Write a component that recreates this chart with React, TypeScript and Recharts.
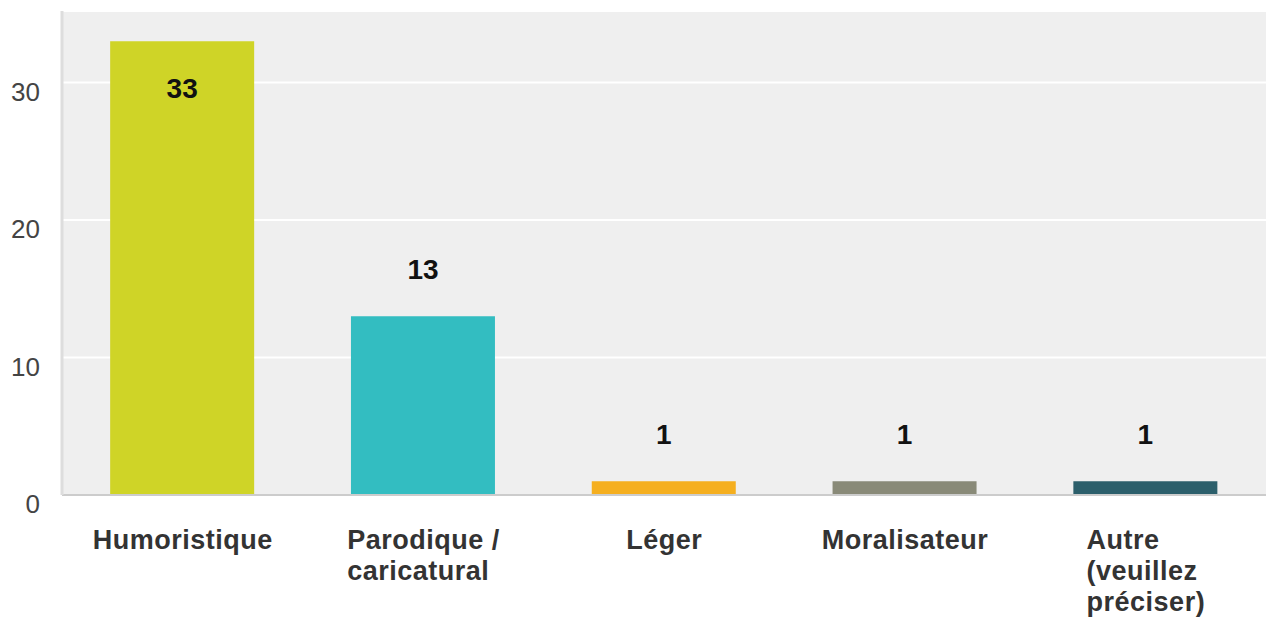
import React from "react";
import { BarChart, Bar, XAxis, YAxis, CartesianGrid, Cell, LabelList } from "recharts";

const categories = ["Humoristique", "Parodique / caricatural", "Léger", "Moralisateur", "Autre (veuillez préciser)"];
const tickLines = [["Humoristique"], ["Parodique /", "caricatural"], ["Léger"], ["Moralisateur"], ["Autre", "(veuillez", "préciser)"]];
const counts = [33, 13, 1, 1, 1];
const colors = ["#CFD427", "#33BDC1", "#F5AF1F", "#898A78", "#2C5F6B"];
const yTicks = [0, 10, 20, 30];

const data = categories.map((c, i) => ({ name: c, value: counts[i] }));

const FONT = "'Liberation Sans', Arial, sans-serif";
const XFONT_SIZE = 27;
const XSPACING = 0.5;

let ctx: CanvasRenderingContext2D | null = null;
function measure(t: string): number {
  if (!ctx) {
    const c = document.createElement("canvas");
    ctx = c.getContext("2d");
  }
  if (!ctx) return t.length * 14;
  ctx.font = `bold ${XFONT_SIZE}px ${FONT}`;
  return ctx.measureText(t).width + XSPACING * (t.length - 1);
}

const XTick = (props: any) => {
  const { x, y, payload } = props;
  const lines = tickLines[payload.index] || [String(payload.value)];
  const w = Math.max(...lines.map(measure));
  const left = x - w / 2;
  return (
    <g>
      {lines.map((l: string, i: number) => (
        <text key={i} x={left} y={y + 54 + i * 31} textAnchor="start" fontFamily={FONT} fontWeight="bold" fontSize={XFONT_SIZE} letterSpacing={XSPACING} fill="#333">
          {l}
        </text>
      ))}
    </g>
  );
};

const YTick = (props: any) => {
  const { x, y, payload } = props;
  return (
    <text x={x - 22} y={y + 18} textAnchor="end" fontFamily={FONT} fontSize={26} fill="#444">
      {payload.value}
    </text>
  );
};

const ValueLabel = (props: any) => {
  const { x, y, width, value } = props;
  const outside = y - 56 > 11;
  const by = outside ? y - 37 : y + 57;
  return (
    <text x={x + width / 2} y={by} textAnchor="middle" fontFamily={FONT} fontWeight="bold" fontSize={28} fill="#111">
      {value}
    </text>
  );
};

export default function App() {
  return (
    <div style={{ position: "absolute", left: 0, top: 0, background: "#fff" }}>
      <BarChart width={1267} height={617} data={data} margin={{ top: 11, right: 1, left: 0, bottom: 0 }} barCategoryGap="20%">
        <CartesianGrid vertical={false} fill="#EFEFEF" stroke="#FFFFFF" strokeWidth={2} />
        <XAxis dataKey="name" height={122} tickLine={false} tickSize={0} tickMargin={0} axisLine={{ stroke: "#CCCCCC", strokeWidth: 2 }} tick={<XTick />} interval={0} />
        <YAxis width={62} domain={[0, 35.2]} ticks={yTicks} tickLine={false} tickSize={0} tickMargin={0} axisLine={{ stroke: "#DDDDDD", strokeWidth: 3 }} tick={<YTick />} allowDataOverflow />
        <Bar dataKey="value" isAnimationActive={false}>
          {data.map((d, i) => (
            <Cell key={i} fill={colors[i]} />
          ))}
          <LabelList dataKey="value" content={<ValueLabel />} />
        </Bar>
      </BarChart>
    </div>
  );
}
